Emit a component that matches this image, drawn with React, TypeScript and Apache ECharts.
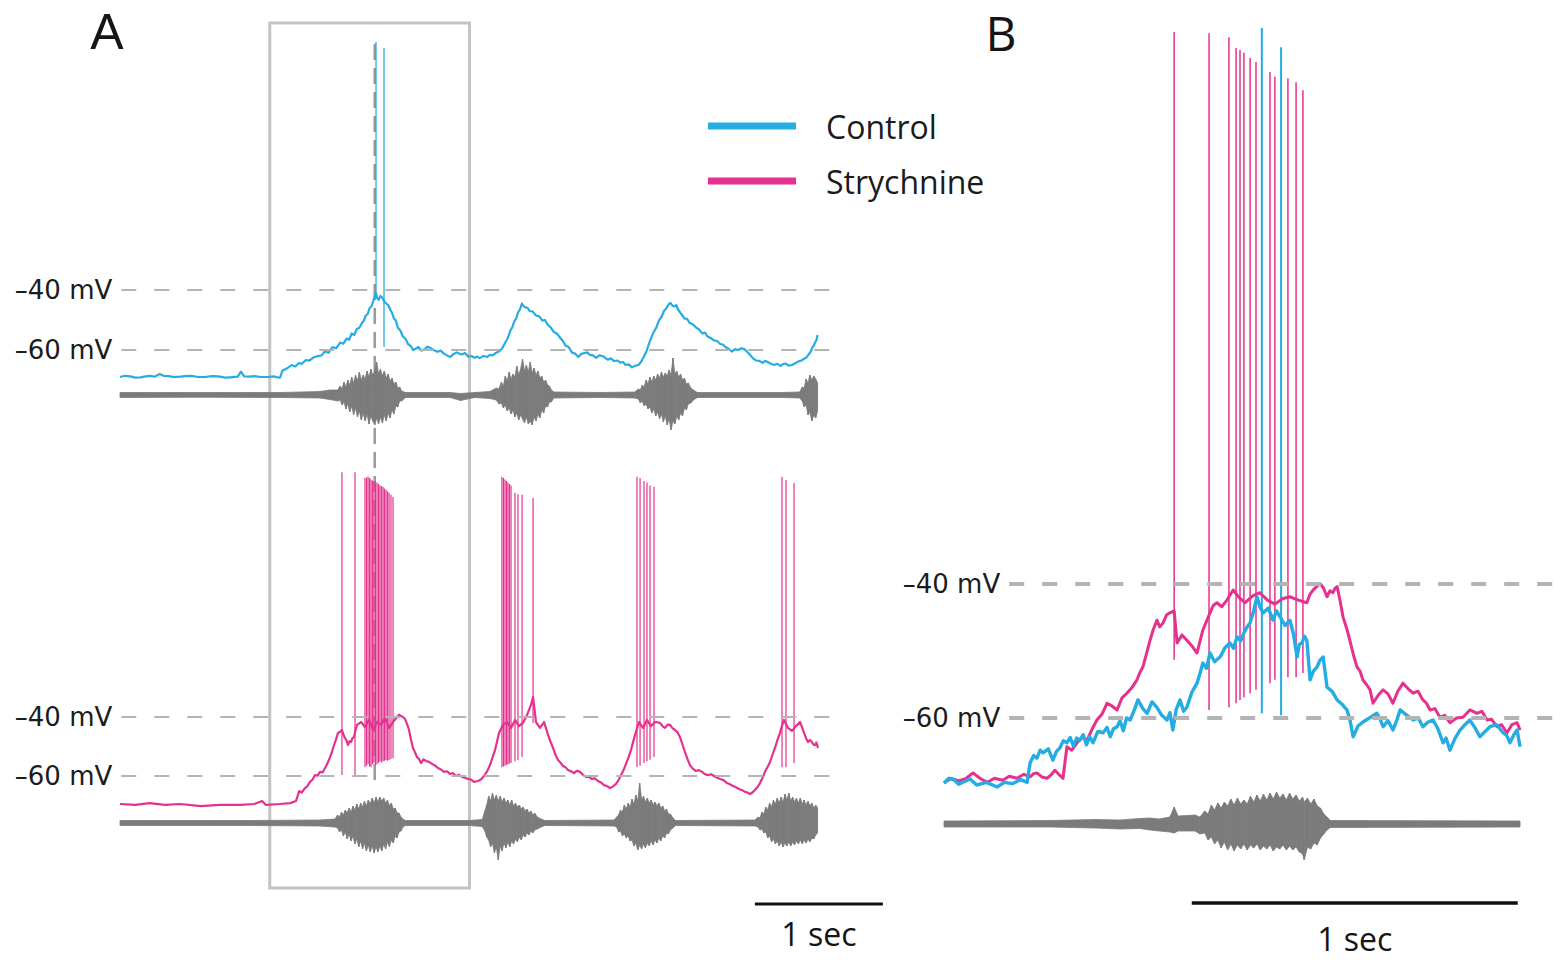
import React, { useEffect, useRef } from 'react';
import * as echarts from 'echarts';

const CONTROL = '#25ace2';
const STRYCH = '#e5318d';
const ENG_GREY = '#7b7b7b';

// ---------- Panel A : control (time s, membrane potential mV) ----------
const controlA: number[][] = [
  [0, -69.0], [0.04, -68.6], [0.08, -68.8], [0.12, -69.2], [0.16, -69.1], [0.2, -68.8], [0.23, -68.6],
  [0.27, -68.9], [0.31, -68.0], [0.34, -68.6], [0.38, -68.7], [0.42, -69.0], [0.47, -68.9], [0.51, -68.7],
  [0.56, -68.6], [0.61, -69.0], [0.66, -69.0], [0.72, -68.7], [0.77, -68.8], [0.82, -69.2], [0.86, -69.1],
  [0.92, -68.9], [0.945, -67.2], [0.97, -68.8], [1.01, -68.9], [1.05, -68.7], [1.1, -69.0], [1.16, -69.0],
  [1.2, -68.8], [1.23, -69.1], [1.25, -69.2], [1.27, -66.8], [1.29, -66.4], [1.31, -66.0], [1.34, -65.0],
  [1.37, -65.5], [1.395, -64.4], [1.42, -64.6], [1.45, -63.4], [1.48, -63.5], [1.515, -62.4], [1.55, -62.0],
  [1.575, -61.8], [1.60, -60.5], [1.63, -60.9], [1.66, -59.0], [1.69, -59.4], [1.72, -57.5], [1.745, -57.9],
  [1.77, -56.2], [1.79, -56.6], [1.81, -54.5], [1.83, -55.0], [1.85, -53.0], [1.87, -52.6], [1.89, -51.0],
  [1.905, -50.2], [1.92, -48.5], [1.935, -48.0], [1.95, -46.0], [1.965, -45.4], [1.98, -43.5], [2.00, -41.0],
  [2.01, -42.8], [2.02, -43.3], [2.035, -42.0], [2.05, -42.6], [2.065, -43.8], [2.08, -44.5], [2.095, -45.0],
  [2.11, -46.5], [2.125, -47.6], [2.14, -49.5], [2.155, -50.2], [2.17, -52.5], [2.19, -53.5], [2.21, -55.5],
  [2.23, -56.2], [2.25, -58.0], [2.27, -58.6], [2.29, -60.0], [2.31, -59.6], [2.33, -59.0], [2.355, -60.2],
  [2.38, -59.8], [2.4, -58.9], [2.42, -59.2], [2.45, -60.0], [2.48, -60.6], [2.505, -60.2], [2.53, -61.2],
  [2.555, -61.8], [2.58, -62.3], [2.605, -61.4], [2.63, -60.8], [2.65, -61.2], [2.67, -61.5], [2.695, -61.0],
  [2.72, -62.2], [2.745, -62.0], [2.77, -62.6], [2.79, -62.2], [2.81, -62.7], [2.84, -62.0], [2.87, -62.3],
  [2.89, -61.6], [2.91, -61.8], [2.935, -61.0], [2.96, -60.5], [2.985, -59.5], [3.01, -57.5], [3.03, -56.0],
  [3.05, -53.5], [3.065, -52.4], [3.08, -50.5], [3.095, -49.5], [3.11, -47.5], [3.125, -46.4], [3.14, -44.5],
  [3.155, -45.5], [3.17, -45.8], [3.185, -46.0], [3.20, -47.0], [3.225, -47.2], [3.25, -48.5], [3.275, -48.8],
  [3.30, -50.2], [3.32, -50.0], [3.34, -51.5], [3.365, -52.5], [3.39, -54.0], [3.415, -54.6], [3.44, -56.0],
  [3.46, -57.0], [3.48, -58.5], [3.505, -59.0], [3.53, -60.8], [3.555, -61.2], [3.58, -62.3], [3.605, -61.3],
  [3.63, -61.0], [3.65, -60.8], [3.67, -61.6], [3.695, -61.8], [3.72, -62.6], [3.745, -61.8], [3.77, -62.0],
  [3.79, -62.6], [3.81, -63.2], [3.835, -62.8], [3.86, -63.7], [3.885, -63.5], [3.91, -64.2], [3.93, -64.0],
  [3.95, -65.0], [3.975, -64.8], [4.00, -65.8], [4.025, -65.2], [4.05, -65.0], [4.07, -64.0], [4.09, -62.5],
  [4.115, -60.2], [4.14, -57.0], [4.165, -54.4], [4.19, -52.5], [4.21, -50.2], [4.23, -49.0], [4.25, -47.0],
  [4.27, -46.0], [4.285, -44.8], [4.30, -44.3], [4.315, -45.2], [4.33, -45.5], [4.345, -45.0], [4.36, -46.5],
  [4.385, -48.0], [4.41, -49.5], [4.43, -49.6], [4.45, -51.0], [4.475, -51.4], [4.50, -52.5], [4.525, -53.2],
  [4.55, -54.5], [4.57, -54.2], [4.59, -55.5], [4.615, -56.0], [4.64, -56.8], [4.665, -57.0], [4.69, -58.0],
  [4.71, -58.2], [4.73, -59.0], [4.755, -59.6], [4.78, -60.5], [4.805, -59.7], [4.83, -60.0], [4.855, -59.4],
  [4.88, -59.8], [4.9, -60.6], [4.92, -61.5], [4.945, -62.8], [4.97, -63.5], [4.995, -63.6], [5.02, -64.3],
  [5.04, -63.6], [5.06, -64.0], [5.085, -64.6], [5.11, -65.0], [5.135, -64.6], [5.16, -65.3], [5.18, -64.7],
  [5.20, -64.5], [5.225, -65.2], [5.25, -65.0], [5.275, -64.4], [5.30, -63.8], [5.32, -63.6], [5.34, -63.0],
  [5.36, -62.6], [5.38, -61.5], [5.395, -60.6], [5.41, -59.0], [5.42, -58.6], [5.43, -57.5], [5.44, -56.8],
  [5.45, -55.0],
];
// spikes: [time s, peak mV, trough mV]
const controlSpikesA: number[][] = [[2.0, 42.7, -42.0], [2.0625, 40.7, -59.0]];
// nerve recording envelope: [time s, upper, lower] (a.u.)
const engControlA: number[][] = [
  [0, 0.25, -0.25], [0.625, 0.25, -0.22], [1.25, 0.25, -0.25], [1.41, 0.3, -0.28], [1.56, 0.35, -0.3],
  [1.64, 0.5, -0.45], [1.70, 0.5, -0.6], [1.72, 0.9, -0.5], [1.735, 0.6, -1.0], [1.75, 1.3, -0.7],
  [1.765, 0.8, -1.4], [1.78, 1.5, -0.9], [1.795, 1.0, -1.7], [1.81, 1.8, -1.1], [1.825, 1.2, -2.0],
  [1.84, 2.0, -1.3], [1.855, 1.4, -2.2], [1.87, 2.3, -1.6], [1.885, 1.5, -2.5], [1.9, 2.0, -1.8],
  [1.915, 1.6, -2.6], [1.93, 2.4, -1.9], [1.945, 1.8, -2.9], [1.96, 2.6, -2.1], [1.975, 2.0, -2.6],
  [1.99, 2.4, -3.0], [2.005, 3.3, -2.3], [2.02, 2.1, -2.9], [2.035, 2.6, -2.2], [2.05, 1.9, -2.8],
  [2.065, 2.4, -2.0], [2.08, 1.7, -2.6], [2.095, 2.1, -1.8], [2.11, 1.4, -2.3], [2.125, 1.7, -1.5],
  [2.14, 1.1, -1.9], [2.155, 1.3, -1.1], [2.17, 0.7, -1.2], [2.185, 0.8, -0.6], [2.20, 0.4, -0.6],
  [2.23, 0.25, -0.25], [2.58, 0.25, -0.25], [2.66, 0.15, -0.55], [2.77, 0.25, -0.25], [2.89, 0.35, -0.35],
  [2.94, 0.7, -0.5], [2.96, 0.6, -0.9], [2.98, 1.3, -0.8], [2.995, 0.9, -1.3], [3.01, 1.9, -1.0],
  [3.025, 1.4, -1.6], [3.04, 2.3, -1.3], [3.055, 1.6, -1.9], [3.07, 2.1, -1.5], [3.085, 1.8, -2.2],
  [3.10, 2.9, -1.8], [3.115, 2.0, -2.5], [3.13, 2.6, -2.0], [3.145, 3.6, -2.4], [3.16, 2.4, -2.8],
  [3.175, 3.0, -2.2], [3.19, 2.3, -2.9], [3.205, 3.3, -2.6], [3.22, 2.2, -3.0], [3.235, 2.7, -2.2],
  [3.25, 2.0, -2.6], [3.265, 2.4, -1.9], [3.28, 1.7, -2.3], [3.295, 1.9, -1.5], [3.31, 1.3, -1.8],
  [3.325, 1.5, -1.1], [3.34, 1.0, -1.2], [3.355, 0.9, -0.7], [3.37, 0.5, -0.7], [3.39, 0.3, -0.3],
  [3.75, 0.25, -0.25], [4.02, 0.3, -0.3], [4.05, 0.6, -0.4], [4.065, 0.5, -0.8], [4.08, 1.0, -0.6],
  [4.095, 0.8, -1.1], [4.11, 1.5, -0.9], [4.125, 1.1, -1.4], [4.14, 1.8, -1.2], [4.155, 1.3, -1.8],
  [4.17, 1.9, -1.4], [4.185, 1.5, -2.1], [4.2, 2.1, -1.7], [4.215, 1.7, -2.4], [4.23, 2.3, -1.9],
  [4.245, 1.8, -2.7], [4.26, 2.2, -2.1], [4.275, 1.9, -3.0], [4.29, 2.5, -2.4], [4.305, 2.0, -3.5],
  [4.32, 3.7, -2.6], [4.335, 2.1, -2.9], [4.35, 2.4, -2.1], [4.365, 1.8, -2.5], [4.38, 2.1, -1.8],
  [4.395, 1.5, -2.1], [4.41, 1.7, -1.3], [4.425, 1.1, -1.5], [4.44, 1.2, -0.9], [4.46, 0.7, -0.8],
  [4.48, 0.5, -0.5], [4.51, 0.25, -0.25], [5.16, 0.25, -0.25], [5.31, 0.3, -0.3], [5.33, 0.8, -0.6],
  [5.345, 0.7, -1.2], [5.36, 1.6, -1.0], [5.375, 1.2, -2.0], [5.39, 2.0, -1.7], [5.405, 1.5, -2.6],
  [5.42, 1.9, -2.0], [5.435, 1.6, -2.3], [5.45, 1.2, -1.6],
];

// ---------- Panel A : strychnine ----------
const strychA: number[][] = [
  [0, -69.5], [0.12, -69.8], [0.23, -69.2], [0.35, -69.8], [0.47, -69.5], [0.63, -70.2], [0.78, -69.8],
  [0.94, -69.8], [1.05, -69.5], [1.11, -68.5], [1.14, -69.8], [1.25, -69.5], [1.33, -69.2], [1.375, -68.5],
  [1.40, -65.1], [1.42, -65.6], [1.445, -64.1], [1.465, -63.4], [1.484, -62.0], [1.505, -61.2], [1.523, -59.7],
  [1.543, -59.9], [1.563, -58.6], [1.582, -58.8], [1.602, -57.3], [1.62, -55.8], [1.641, -53.6], [1.656, -51.8],
  [1.672, -49.5], [1.688, -47.6], [1.703, -45.4], [1.72, -45.0], [1.734, -44.4], [1.746, -46.0], [1.758, -47.1],
  [1.77, -48.0], [1.781, -49.5], [1.793, -48.2], [1.805, -48.5], [1.816, -47.2], [1.828, -46.8], [1.84, -44.5],
  [1.852, -42.7], [1.883, -41.7], [1.914, -43.4], [1.945, -41.0], [1.977, -44.4], [2.008, -41.7],
  [2.039, -42.7], [2.07, -40.3], [2.102, -43.7], [2.133, -41.7], [2.164, -40.0], [2.18, -39.2], [2.195, -39.7],
  [2.21, -40.0], [2.227, -40.7], [2.243, -42.4], [2.258, -44.4], [2.273, -47.6], [2.289, -50.5], [2.305, -52.0],
  [2.32, -53.6], [2.336, -54.2], [2.352, -55.6], [2.371, -54.4], [2.391, -54.9], [2.414, -55.2], [2.438, -55.9],
  [2.46, -56.4], [2.484, -57.3], [2.508, -57.8], [2.531, -58.6], [2.555, -58.4], [2.578, -59.3], [2.6, -59.0],
  [2.625, -60.0], [2.648, -59.6], [2.672, -60.3], [2.695, -60.6], [2.719, -61.0], [2.742, -61.2], [2.766, -62.0],
  [2.797, -61.7], [2.82, -61.2], [2.844, -60.0], [2.868, -58.4], [2.891, -56.3], [2.91, -53.8], [2.93, -51.2],
  [2.946, -48.2], [2.961, -45.4], [2.992, -42.7], [3.023, -41.7], [3.055, -43.7],
  [3.086, -41.0], [3.117, -43.1], [3.148, -42.0], [3.18, -39.3], [3.211, -35.9], [3.227, -33.2],
  [3.25, -41.7], [3.281, -43.7], [3.313, -41.7], [3.33, -44.0], [3.344, -46.1], [3.364, -48.4], [3.383, -50.5],
  [3.402, -52.8], [3.422, -54.6], [3.44, -55.4], [3.461, -56.6], [3.48, -57.0], [3.5, -58.0], [3.523, -58.4],
  [3.547, -59.0], [3.57, -58.2], [3.594, -58.6], [3.617, -59.6], [3.641, -60.3], [3.665, -60.4], [3.688, -61.0],
  [3.71, -60.8], [3.734, -61.7], [3.758, -62.2], [3.781, -63.1], [3.805, -63.4], [3.828, -64.1], [3.85, -63.6],
  [3.875, -62.7], [3.895, -61.4], [3.914, -59.7], [3.934, -58.0], [3.953, -55.9], [3.972, -53.8], [3.992, -51.2],
  [4.008, -48.6], [4.023, -46.1], [4.055, -41.7], [4.086, -43.7], [4.117, -41.0], [4.148, -43.1],
  [4.18, -41.7], [4.219, -42.0], [4.24, -43.2], [4.258, -43.7], [4.278, -42.6], [4.297, -42.7], [4.316, -43.8],
  [4.336, -44.4], [4.355, -45.2], [4.375, -46.8], [4.395, -49.4], [4.414, -51.9], [4.433, -54.2], [4.453, -56.3],
  [4.476, -57.6], [4.5, -58.3], [4.523, -58.0], [4.547, -58.6], [4.57, -59.4], [4.594, -59.7], [4.617, -59.4],
  [4.641, -60.0], [4.664, -60.6], [4.688, -61.0], [4.715, -61.4], [4.742, -62.4], [4.765, -62.8], [4.789, -63.4],
  [4.812, -63.8], [4.836, -64.4], [4.86, -64.8], [4.883, -65.4], [4.902, -65.6], [4.922, -66.1], [4.941, -65.6],
  [4.961, -64.7], [4.98, -63.8], [5.0, -62.4], [5.02, -60.6], [5.039, -58.6], [5.058, -57.0], [5.078, -55.3],
  [5.098, -52.8], [5.117, -50.5], [5.136, -47.8], [5.156, -45.4], [5.172, -43.0], [5.188, -41.0], [5.219, -43.7],
  [5.25, -44.7], [5.281, -43.1], [5.313, -41.7], [5.328, -43.4], [5.344, -45.4], [5.36, -47.2], [5.375, -48.5],
  [5.39, -47.8], [5.406, -48.5], [5.418, -49.4], [5.43, -49.5], [5.44, -48.6], [5.453, -50.5],
];
const strychSpikesA: number[][] = [
  [1.734, 43.0, -59.7], [1.836, 43.0, -59.7], [1.914, 41.0, -57.0], [1.926, 41.2, -56.5],
  [1.938, 41.5, -56.0], [1.95, 41.0, -56.8], [1.961, 40.5, -57.0], [1.973, 40.2, -56.0],
  [1.984, 40.0, -55.5], [1.996, 39.8, -56.2], [2.008, 39.5, -56.0], [2.02, 39.0, -55.5],
  [2.031, 38.5, -55.0], [2.043, 38.3, -55.4], [2.055, 38.0, -55.0], [2.066, 37.5, -54.8],
  [2.078, 37.0, -54.6], [2.09, 36.5, -54.8], [2.102, 36.0, -54.6], [2.117, 35.3, -54.2],
  [2.133, 34.6, -54.0],
  [2.984, 41.4, -57.0], [2.996, 41.0, -56.8], [3.008, 40.5, -56.5], [3.02, 40.0, -56.2],
  [3.031, 39.4, -56.0], [3.043, 39.0, -55.8], [3.055, 38.5, -55.5], [3.086, 36.0, -55.0],
  [3.109, 35.5, -54.6], [3.141, 35.3, -53.6], [3.227, 34.2, -42.0],
  [4.039, 41.4, -57.0], [4.063, 41.0, -56.5], [4.094, 40.0, -55.6], [4.117, 39.5, -55.0],
  [4.141, 38.5, -54.5], [4.172, 38.0, -53.6],
  [5.172, 41.4, -57.0], [5.203, 40.3, -57.0], [5.266, 39.3, -55.6],
];
const engStrychA: number[][] = [
  [0, 0.25, -0.25], [1.02, 0.25, -0.25], [1.56, 0.3, -0.3], [1.68, 0.4, -0.4], [1.70, 0.8, -0.5],
  [1.715, 0.6, -0.9], [1.73, 1.1, -0.7], [1.745, 0.8, -1.3], [1.76, 1.3, -0.9], [1.775, 1.0, -1.6],
  [1.79, 1.5, -1.1], [1.805, 1.1, -1.8], [1.82, 1.7, -1.3], [1.835, 1.3, -2.1], [1.85, 1.9, -1.6],
  [1.865, 1.4, -2.4], [1.88, 2.0, -1.8], [1.895, 1.6, -2.6], [1.91, 2.2, -2.0], [1.925, 1.7, -2.8],
  [1.94, 2.3, -2.2], [1.955, 1.9, -2.9], [1.97, 2.5, -2.3], [1.985, 2.0, -3.0], [2.00, 2.6, -2.4],
  [2.015, 2.1, -2.9], [2.03, 2.6, -2.3], [2.045, 2.2, -2.8], [2.06, 2.5, -2.1], [2.075, 2.0, -2.6],
  [2.09, 2.3, -1.9], [2.105, 1.7, -2.4], [2.12, 2.0, -1.7], [2.135, 1.4, -2.0], [2.15, 1.5, -1.3],
  [2.165, 1.0, -1.5], [2.18, 1.0, -0.9], [2.195, 0.6, -0.8], [2.21, 0.4, -0.4], [2.23, 0.25, -0.25],
  [2.73, 0.25, -0.25], [2.83, 0.35, -0.35], [2.85, 1.2, -0.8], [2.865, 1.8, -1.4], [2.88, 2.7, -1.7],
  [2.895, 2.2, -2.4], [2.91, 3.0, -2.0], [2.925, 2.3, -3.0], [2.94, 2.8, -2.4], [2.955, 2.2, -3.7],
  [2.97, 2.7, -2.3], [2.985, 2.1, -2.8], [3.00, 2.5, -2.0], [3.015, 2.0, -2.5], [3.03, 2.3, -1.9],
  [3.045, 1.8, -2.4], [3.06, 2.3, -1.8], [3.075, 1.7, -2.1], [3.09, 2.0, -1.6], [3.105, 1.6, -1.9],
  [3.12, 1.8, -1.4], [3.135, 1.4, -1.7], [3.15, 1.6, -1.2], [3.165, 1.2, -1.4], [3.18, 1.4, -1.0],
  [3.195, 1.0, -1.2], [3.21, 1.2, -0.8], [3.225, 0.8, -1.0], [3.24, 1.0, -0.7], [3.26, 0.6, -0.6],
  [3.29, 0.4, -0.4], [3.32, 0.25, -0.25], [3.86, 0.3, -0.3], [3.88, 0.6, -0.4], [3.895, 0.8, -0.9],
  [3.91, 1.3, -0.8], [3.925, 1.1, -1.3], [3.94, 1.8, -1.1], [3.955, 1.4, -1.5], [3.97, 2.0, -1.3],
  [3.985, 1.6, -1.8], [4.00, 2.4, -1.7], [4.015, 1.9, -2.3], [4.03, 2.8, -2.0], [4.045, 2.2, -2.7],
  [4.06, 4.0, -2.2], [4.075, 2.3, -2.6], [4.09, 2.7, -2.1], [4.105, 2.1, -2.5], [4.12, 2.5, -2.0],
  [4.135, 2.0, -2.3], [4.15, 2.3, -1.8], [4.165, 1.8, -2.2], [4.18, 2.1, -1.7], [4.195, 1.7, -2.0],
  [4.21, 2.0, -1.5], [4.225, 1.5, -1.8], [4.24, 1.7, -1.3], [4.255, 1.2, -1.5], [4.27, 1.4, -1.0],
  [4.285, 0.9, -1.1], [4.30, 0.9, -0.7], [4.32, 0.5, -0.5], [4.34, 0.25, -0.25], [4.96, 0.3, -0.3],
  [4.985, 0.6, -0.4], [5.0, 0.5, -0.7], [5.015, 1.1, -0.6], [5.03, 0.9, -1.0], [5.045, 1.6, -0.9],
  [5.06, 1.3, -1.5], [5.075, 2.0, -1.3], [5.09, 1.6, -1.9], [5.105, 2.3, -1.6], [5.12, 1.9, -2.1],
  [5.135, 2.5, -1.8], [5.15, 2.0, -2.3], [5.165, 2.6, -1.9], [5.18, 2.1, -2.4], [5.195, 2.9, -2.0],
  [5.21, 2.3, -2.3], [5.225, 3.0, -1.9], [5.24, 2.2, -2.3], [5.255, 2.6, -1.9], [5.27, 2.1, -2.2],
  [5.285, 2.5, -1.8], [5.30, 2.0, -2.1], [5.315, 2.5, -1.7], [5.33, 1.9, -2.1], [5.345, 2.3, -1.7],
  [5.36, 1.8, -2.0], [5.375, 2.2, -1.6], [5.39, 1.7, -1.9], [5.405, 2.0, -1.5], [5.42, 1.5, -1.6],
  [5.435, 1.8, -1.2], [5.45, 1.5, -1.0],
];

// ---------- Panel B : expanded burst (time s, mV) ----------
const controlB: number[][] = [
  [0, -69.7], [0.015, -69.0], [0.03, -69.2], [0.045, -69.9], [0.058, -69.6], [0.08, -69.1], [0.1, -70.0],
  [0.13, -69.6], [0.163, -70.3], [0.185, -69.6], [0.21, -69.8], [0.235, -69.2], [0.255, -69.6], [0.264, -66.7],
  [0.275, -65.6], [0.285, -66.0], [0.295, -64.8], [0.304, -65.2], [0.32, -64.6], [0.334, -66.3], [0.345, -65.0],
  [0.355, -64.5], [0.366, -63.4], [0.377, -63.7], [0.387, -62.9], [0.397, -64.2], [0.407, -63.0], [0.417, -63.3],
  [0.427, -62.5], [0.437, -64.0], [0.447, -62.8], [0.457, -63.7], [0.472, -62.0], [0.488, -62.2], [0.5, -61.4],
  [0.51, -62.8], [0.52, -61.6], [0.531, -61.3], [0.54, -60.4], [0.55, -61.9], [0.56, -60.0], [0.571, -60.3],
  [0.583, -58.9], [0.595, -57.3], [0.61, -58.6], [0.623, -59.3], [0.638, -57.6], [0.653, -58.4], [0.668, -59.6],
  [0.684, -60.3], [0.693, -59.2], [0.702, -61.8], [0.712, -58.8], [0.724, -57.3], [0.735, -59.0], [0.745, -58.4],
  [0.76, -56.2], [0.776, -54.8], [0.785, -53.4], [0.794, -51.8], [0.805, -52.6], [0.816, -50.3], [0.83, -51.6],
  [0.847, -50.9], [0.862, -49.5], [0.877, -48.8], [0.888, -49.6], [0.899, -47.9], [0.91, -48.5], [0.92, -47.3],
  [0.93, -46.4], [0.939, -45.8], [0.95, -44.0], [0.96, -41.9], [0.97, -43.5], [0.979, -44.3], [0.995, -43.6],
  [1.009, -45.4], [1.02, -44.0], [1.031, -44.9], [1.046, -46.2], [1.061, -45.4], [1.072, -47.5], [1.083, -50.9],
  [1.09, -49.0], [1.098, -48.8], [1.106, -47.8], [1.113, -48.4], [1.123, -54.3], [1.133, -53.0], [1.144, -52.4],
  [1.153, -51.4], [1.163, -50.9], [1.175, -55.4], [1.19, -56.0], [1.206, -57.3], [1.22, -57.9], [1.236, -58.8],
  [1.245, -60.2], [1.255, -62.8], [1.27, -61.2], [1.285, -60.6], [1.305, -60.0], [1.328, -59.3], [1.338, -60.2],
  [1.347, -61.3], [1.362, -60.4], [1.377, -61.8], [1.39, -60.2], [1.399, -58.8], [1.42, -59.6], [1.439, -60.3],
  [1.455, -60.0], [1.469, -61.3], [1.485, -60.6], [1.5, -60.3], [1.515, -61.6], [1.531, -63.7], [1.54, -63.0],
  [1.552, -64.8], [1.568, -63.0], [1.583, -61.8], [1.598, -61.0], [1.613, -60.3], [1.628, -61.4], [1.644, -62.8],
  [1.66, -62.0], [1.675, -61.3], [1.695, -61.0], [1.715, -62.2], [1.726, -62.6], [1.736, -63.7], [1.748, -62.5],
  [1.758, -61.8], [1.767, -64.3],
];
const strychB: number[][] = [
  [0, -69.7], [0.022, -69.0], [0.045, -69.4], [0.068, -69.0], [0.089, -68.2], [0.11, -69.0], [0.132, -69.6],
  [0.155, -69.0], [0.18, -69.3], [0.2, -68.7], [0.224, -69.0], [0.245, -68.4], [0.264, -68.8], [0.275, -68.3],
  [0.285, -68.2], [0.3, -68.8], [0.316, -69.0], [0.328, -68.5], [0.34, -67.8], [0.352, -68.4], [0.365, -69.0],
  [0.377, -64.3], [0.392, -64.8], [0.408, -63.7], [0.424, -62.9], [0.439, -63.3], [0.455, -61.6], [0.469, -60.3],
  [0.485, -59.4], [0.5, -57.8], [0.515, -58.2], [0.531, -58.8], [0.546, -57.0], [0.561, -56.3], [0.576, -55.5],
  [0.592, -54.3], [0.601, -53.2], [0.61, -52.4], [0.62, -50.6], [0.632, -48.4], [0.642, -46.8], [0.653, -45.4],
  [0.662, -46.4], [0.672, -45.8], [0.683, -44.6], [0.693, -44.3], [0.706, -44.0], [0.715, -48.8], [0.73, -47.6],
  [0.745, -48.4], [0.76, -49.2], [0.776, -50.3], [0.785, -48.6], [0.794, -46.9], [0.805, -45.6], [0.816, -44.3],
  [0.826, -43.2], [0.837, -42.8], [0.852, -43.4], [0.868, -42.4], [0.878, -41.6], [0.887, -40.9], [0.905, -42.0],
  [0.923, -42.8], [0.946, -41.8], [0.969, -41.3], [0.992, -42.4], [1.015, -43.0], [1.038, -42.2], [1.061, -41.9],
  [1.087, -42.4], [1.113, -42.8], [1.122, -41.6], [1.132, -40.9], [1.143, -40.4], [1.153, -39.9], [1.164, -40.6],
  [1.175, -41.9], [1.184, -41.0], [1.193, -41.3], [1.2, -40.6], [1.206, -40.4], [1.215, -42.5], [1.224, -44.9],
  [1.235, -46.6], [1.245, -48.4], [1.256, -50.6], [1.267, -52.4], [1.276, -53.0], [1.285, -54.3], [1.296, -55.0],
  [1.307, -55.8], [1.316, -57.8], [1.332, -56.6], [1.347, -55.8], [1.362, -56.4], [1.377, -57.8], [1.392, -56.0],
  [1.408, -54.8], [1.423, -55.6], [1.439, -56.3], [1.454, -56.0], [1.469, -57.3], [1.48, -57.8], [1.491, -58.8],
  [1.506, -58.6], [1.521, -59.9], [1.536, -59.6], [1.552, -60.7], [1.572, -60.0], [1.592, -59.9], [1.613, -58.8],
  [1.635, -59.3], [1.65, -59.0], [1.666, -60.3], [1.68, -60.2], [1.696, -61.3], [1.71, -61.0], [1.727, -62.2],
  [1.742, -61.0], [1.758, -60.7], [1.767, -61.8],
];
const controlSpikesB: number[][] = [[0.975, 43.0, -59.3], [1.034, 40.1, -59.6]];
const strychSpikesB: number[][] = [
  [0.706, 42.4, -51.3], [0.813, 42.2, -58.8], [0.874, 41.6, -58.4], [0.896, 40.0, -57.8],
  [0.908, 39.7, -57.3], [0.92, 39.3, -56.9], [0.939, 38.5, -56.3], [0.957, 37.9, -55.8],
  [1.0, 36.4, -54.8], [1.015, 35.7, -54.3], [1.055, 35.5, -53.9], [1.08, 34.9, -53.9],
  [1.101, 33.7, -53.3],
];
const engB: number[][] = [
  [0, 0.3, -0.3], [0.325, 0.35, -0.3], [0.463, 0.45, -0.4], [0.54, 0.4, -0.5], [0.6, 0.55, -0.45],
  [0.632, 0.6, -0.6], [0.66, 0.5, -0.7], [0.693, 0.7, -0.8], [0.706, 1.7, -0.9], [0.718, 0.8, -0.7],
  [0.77, 0.9, -0.7], [0.785, 0.7, -1.0], [0.8, 1.3, -0.9], [0.81, 1.0, -1.6], [0.82, 1.9, -1.3],
  [0.83, 1.4, -2.0], [0.84, 2.1, -1.6], [0.85, 1.6, -2.4], [0.86, 2.2, -1.8], [0.87, 1.8, -2.6],
  [0.88, 2.5, -2.0], [0.89, 1.9, -2.7], [0.9, 2.6, -2.1], [0.91, 2.0, -2.5], [0.92, 2.4, -2.0],
  [0.93, 2.0, -2.6], [0.94, 2.8, -2.1], [0.95, 2.2, -2.4], [0.96, 2.9, -2.0], [0.97, 2.3, -2.6],
  [0.98, 3.0, -2.2], [0.99, 2.4, -2.5], [1.0, 3.1, -2.1], [1.01, 2.5, -2.7], [1.02, 3.2, -2.3],
  [1.03, 2.6, -2.5], [1.04, 3.0, -2.1], [1.05, 2.4, -2.6], [1.06, 3.1, -2.2], [1.07, 2.5, -2.6],
  [1.08, 2.9, -2.3], [1.09, 2.3, -2.8], [1.1, 2.7, -3.0], [1.105, 2.2, -3.6], [1.115, 2.6, -2.3],
  [1.125, 2.0, -2.5], [1.135, 2.5, -1.9], [1.145, 1.8, -2.1], [1.155, 1.6, -1.4], [1.165, 1.0, -1.0],
  [1.175, 0.7, -0.6], [1.185, 0.35, -0.35], [1.767, 0.3, -0.3],
];

// reference levels and annotations
const refLevels = [-40, -60];
const levelLabels = ['–40 mV', '–60 mV'];
const scaleBarA = [4.96, 1]; // start (s), length (s)
const scaleBarB = [0.76, 1];
const zoomWindowA = [1.17, 2.73]; // s, region expanded in B
const alignTimeA = 1.99; // s

const X_MAX_A = 5.55;
const X_MAX_B = 1.87;

function markLevels(xStart: number, xEnd: number, width: number, dash: number[]) {
  return {
    silent: true,
    symbol: ['none', 'none'],
    animation: false,
    lineStyle: { color: '#b4b4b4', width, type: dash },
    label: {
      show: true,
      position: 'start',
      distance: 9,
      fontSize: 26,
      fontFamily: 'DejaVu Sans',
      color: '#1b1b1b',
      formatter: (p: any) => p.name,
    },
    emphasis: { disabled: true },
    data: refLevels.map((v, i) => [
      { name: levelLabels[i], coord: [xStart, v] },
      { coord: [xEnd, v] },
    ]),
  };
}

function traceSeries(name: string, data: number[][], idx: number, color: string, width: number, extra: any = {}) {
  return {
    type: 'line',
    name,
    data,
    xAxisIndex: idx,
    yAxisIndex: idx,
    showSymbol: false,
    symbol: 'none',
    color,
    itemStyle: { color },
    lineStyle: { color, width, join: 'round' },
    silent: true,
    ...extra,
  };
}

function spikeSeries(name: string, data: number[][], idx: number, color: string, width: number) {
  return {
    type: 'custom',
    name,
    data,
    xAxisIndex: idx,
    yAxisIndex: idx,
    silent: true,
    encode: { x: 0, y: [1, 2] },
    renderItem: (_p: any, api: any) => {
      const a = api.coord([api.value(0), api.value(1)]);
      const b = api.coord([api.value(0), api.value(2)]);
      return {
        type: 'line',
        shape: { x1: a[0], y1: a[1], x2: b[0], y2: b[1] },
        style: { stroke: color, lineWidth: width },
      };
    },
  };
}

function engSeries(name: string, data: number[][], idx: number) {
  return {
    type: 'custom',
    name,
    data,
    xAxisIndex: idx,
    yAxisIndex: idx,
    silent: true,
    encode: { x: 0, y: [1, 2] },
    renderItem: (params: any, api: any) => {
      const i = params.dataIndex;
      if (i >= data.length - 1) return { type: 'group', children: [] };
      const a = data[i];
      const b = data[i + 1];
      const pts = [
        api.coord([a[0], a[1]]),
        api.coord([b[0], b[1]]),
        api.coord([b[0], b[2]]),
        api.coord([a[0], a[2]]),
      ];
      return {
        type: 'polygon',
        shape: { points: pts },
        style: { fill: ENG_GREY, stroke: ENG_GREY, lineWidth: 0.8 },
      };
    },
  };
}

const grids = [
  { left: 120, width: X_MAX_A * 128, top: 20, height: 375 },
  { left: 120, width: X_MAX_A * 128, top: 355, height: 80 },
  { left: 120, width: X_MAX_A * 128, top: 451.5, height: 368.75 },
  { left: 120, width: X_MAX_A * 128, top: 783, height: 80 },
  { left: 944, width: X_MAX_B * 326, top: 14.5, height: 804 },
  { left: 944, width: X_MAX_B * 326, top: 784, height: 80 },
];
const xMaxes = [X_MAX_A, X_MAX_A, X_MAX_A, X_MAX_A, X_MAX_B, X_MAX_B];
const yRanges = [[-75, 50], [-4, 4], [-75, 50], [-4, 4], [-75, 45], [-4, 4]];

export default function App() {
  const ref = useRef<HTMLDivElement>(null);

  useEffect(() => {
    if (!ref.current) return;
    const chart = echarts.init(ref.current, null, { renderer: 'svg' });

    const option: any = {
      animation: false,
      backgroundColor: '#ffffff',
      legend: {
        data: ['Control', 'Strychnine'],
        orient: 'vertical',
        left: 708,
        top: 110,
        padding: 0,
        itemGap: 23,
        itemWidth: 88,
        itemHeight: 7,
        icon: 'rect',
        selectedMode: false,
        textStyle: { fontSize: 32, fontFamily: 'Open Sans', color: '#1b1b1b', padding: [0, 0, 0, 25] },
      },
      grid: grids.map((g) => ({ ...g, containLabel: false })),
      xAxis: xMaxes.map((m, i) => ({ type: 'value', gridIndex: i, min: 0, max: m, show: false })),
      yAxis: yRanges.map((r, i) => ({ type: 'value', gridIndex: i, min: r[0], max: r[1], show: false })),
      series: [
        traceSeries('Control', controlA, 0, CONTROL, 2.2, { markLine: markLevels(0.01, X_MAX_A, 2, [15, 18]) }),
        spikeSeries('Control spikes A', controlSpikesA, 0, CONTROL, 1.3),
        engSeries('Nerve A1', engControlA, 1),
        traceSeries('Strychnine', strychA, 2, STRYCH, 2.2, { markLine: markLevels(0.01, X_MAX_A, 2, [15, 18]) }),
        spikeSeries('Strychnine spikes A', strychSpikesA, 2, STRYCH, 1.2),
        engSeries('Nerve A2', engStrychA, 3),
        traceSeries('Strychnine', strychB, 4, STRYCH, 3, { markLine: markLevels(0.2, X_MAX_B, 4, [15, 18]) }),
        traceSeries('Control', controlB, 4, CONTROL, 3.4),
        spikeSeries('Strychnine spikes B', strychSpikesB, 4, STRYCH, 1.5),
        spikeSeries('Control spikes B', controlSpikesB, 4, CONTROL, 2),
        engSeries('Nerve B', engB, 5),
      ],
    };
    chart.setOption(option);

    const px = (g: number, t: number, v: number) => chart.convertToPixel({ gridIndex: g } as any, [t, v]) as number[];
    const boxL = px(0, zoomWindowA[0], 0)[0];
    const boxR = px(0, zoomWindowA[1], 0)[0];
    const boxT = px(0, 0, 49)[1];
    const boxB = px(2, 0, -98)[1];
    const vx = px(0, alignTimeA, 0)[0];
    const vy1 = px(0, 0, 42)[1];
    const vy2 = px(2, 0, -64)[1];
    const aBar1 = px(0, scaleBarA[0], 0)[0];
    const aBar2 = px(0, scaleBarA[0] + scaleBarA[1], 0)[0];
    const bBar1 = px(4, scaleBarB[0], 0)[0];
    const bBar2 = px(4, scaleBarB[0] + scaleBarB[1], 0)[0];

    const txt = (text: string, x: number, y: number, size: number, family: string) => ({
      type: 'text',
      x,
      y,
      silent: true,
      style: {
        text, fontSize: size, fontFamily: family, fill: '#151515',
        align: 'center', verticalAlign: 'middle', textAlign: 'center', textVerticalAlign: 'middle',
      },
    });

    chart.setOption({
      graphic: [
        {
          type: 'rect',
          z: 0,
          shape: { x: boxL, y: boxT, width: boxR - boxL, height: boxB - boxT },
          style: { fill: 'none', stroke: '#c3c3c3', lineWidth: 3 },
          silent: true,
        },
        {
          type: 'line',
          z: 0,
          shape: { x1: vx, y1: vy1, x2: vx, y2: vy2 },
          style: { stroke: '#9a9a9a', lineWidth: 2.5, lineDash: [16, 8] },
          silent: true,
        },
        {
          type: 'line',
          shape: { x1: aBar1, y1: 904, x2: aBar2, y2: 904 },
          style: { stroke: '#111', lineWidth: 3 },
          silent: true,
        },
        txt('1 sec', (aBar1 + aBar2) / 2, 933, 32, 'Open Sans'),
        {
          type: 'line',
          shape: { x1: bBar1, y1: 903, x2: bBar2, y2: 903 },
          style: { stroke: '#111', lineWidth: 3.5 },
          silent: true,
        },
        txt('1 sec', (bBar1 + bBar2) / 2, 938, 32, 'Open Sans'),
        txt('A', 107, 32, 50, 'Liberation Sans'),
        txt('B', 1001, 32, 48, 'Open Sans'),
      ],
    });

    return () => chart.dispose();
  }, []);

  return (
    <div
      ref={ref}
      style={{ position: 'absolute', left: 0, top: 0, width: 1554, height: 961, background: '#fff' }}
    />
  );
}
